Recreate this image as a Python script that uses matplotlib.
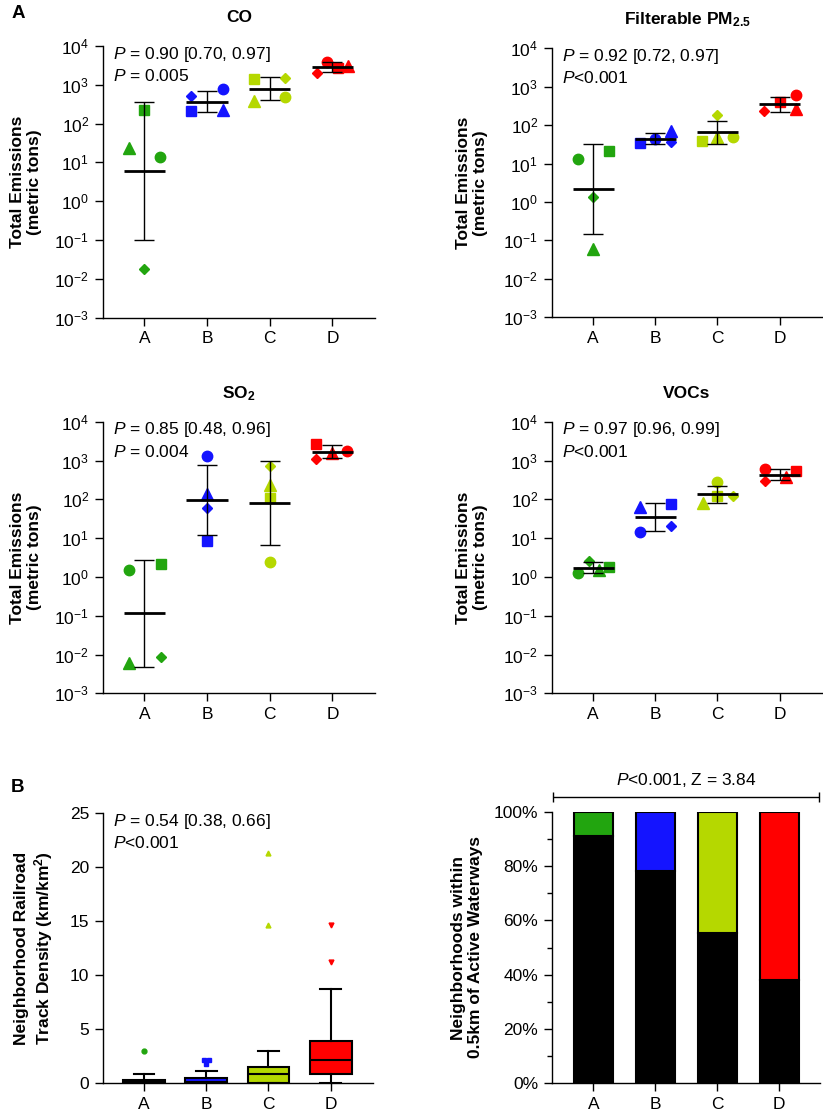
import numpy as np
import matplotlib
matplotlib.use('Agg')
import matplotlib.pyplot as plt
from matplotlib.ticker import LogLocator, NullLocator, MultipleLocator, PercentFormatter

plt.rcParams['font.family'] = ['Liberation Sans', 'DejaVu Sans']
plt.rcParams['mathtext.fontset'] = 'custom'
plt.rcParams['mathtext.rm'] = 'Liberation Sans'
plt.rcParams['mathtext.it'] = 'Liberation Sans:italic'
plt.rcParams['mathtext.bf'] = 'Liberation Sans:bold'
plt.rcParams['axes.linewidth'] = 1.0

FS = 12.5

# Groups and colours
groups = ['A', 'B', 'C', 'D']
colors = ['#22a50f', '#1414ff', '#b5d800', '#ff0000']
shapes = ['o', 's', '^', 'D']          # one shape per site, same order as values below
shape_ms = [7.5, 7.0, 8.0, 5.3]

# Total emissions (metric tons), per group: [circle, square, triangle, diamond]
co = [[13.5, 224, 24, 0.0175], [764, 211, 224, 525],
      [492, 1390, 390, 1470], [3940, 2660, 3100, 1990]]
pm25 = [[13.4, 21.7, 0.059, 1.33], [43.6, 33.7, 71.8, 36.5],
        [48.3, 39.4, 50, 184], [610, 407, 259, 233]]
so2 = [[1.5, 2.2, 0.006, 0.0088], [1280, 8.4, 137, 58.5],
       [2.38, 110, 233, 721], [1790, 2660, 1590, 1094]]
vocs = [[1.29, 1.85, 1.49, 2.6], [14.1, 76.5, 65, 20],
        [279, 121, 79.6, 118.6], [594, 537, 376, 296]]

# horizontal spread of overlapping points (category units), same layout as values
co_dx = [[0.25, 0, -0.25, 0], [0.25, -0.25, 0.25, -0.25],
         [0.25, -0.25, -0.25, 0.25], [-0.085, 0.085, 0.25, -0.25]]
pm_dx = [[-0.25, 0.25, 0, 0], [0, -0.25, 0.25, 0.25],
         [0.25, -0.25, 0, 0], [0.27, 0, 0.27, -0.25]]
so2_dx = [[-0.25, 0.27, -0.25, 0.26], [0, 0, 0, 0],
          [0, 0, 0, 0], [0.24, -0.26, 0, -0.26]]
voc_dx = [[-0.25, 0.26, 0.1, -0.06], [-0.24, 0.25, -0.24, 0.25],
          [0, 0, -0.24, 0.25], [-0.24, 0.27, 0.1, -0.24]]

stats_text = {
    'co': ['= 0.90 [0.70, 0.97]', '= 0.005'],
    'pm': ['= 0.92 [0.72, 0.97]', '<0.001'],
    'so2': ['= 0.85 [0.48, 0.96]', '= 0.004'],
    'voc': ['= 0.97 [0.96, 0.99]', '<0.001'],
    'rail': ['= 0.54 [0.38, 0.66]', '<0.001'],
}

# Railroad track density box plots (km/km2)
rail_med = [0.05, 0.08, 0.80, 2.14]
rail_q1 = [0.0, 0.0, 0.0, 0.84]
rail_q3 = [0.28, 0.43, 1.42, 3.90]
rail_lo = [0.0, 0.0, 0.0, 0.0]
rail_hi = [0.84, 1.11, 2.97, 8.67]
rail_fliers = [[2.97], [2.14, 2.14, 1.73], [21.3, 14.6], [14.6, 11.2]]
flier_dx = [[0], [-0.04, 0.04, 0], [0, 0], [0, 0]]
flier_marks = ['o', 's', '^', 'v']

# Neighborhoods within 0.5 km of active waterways (%)
water_in = [91.4, 78.3, 55.2, 38.0]

W, H = 823, 1115
fig = plt.figure(figsize=(W / 100, H / 100), dpi=100)


def add_ax(l, t, r, b):
    return fig.add_axes([l / W, 1 - b / H, (r - l) / W, (b - t) / H])


def style(ax):
    for s in ['top', 'right']:
        ax.spines[s].set_visible(False)
    ax.tick_params(direction='out', length=6, width=1.0, labelsize=FS, pad=4)
    ax.set_xticks(range(1, 5))
    ax.set_xticklabels(groups)
    ax.set_xlim(0.34, 4.68)


def p_label(s):
    return (r'$\it{P}$ ' + s) if s.startswith('=') else (r'$\it{P}$' + s)


def p_text(ax, key):
    l1, l2 = stats_text[key]
    ax.text(0.037, 0.97, p_label(l1), transform=ax.transAxes, fontsize=FS,
            va='center', ha='left')
    ax.text(0.037, 0.89, p_label(l2), transform=ax.transAxes, fontsize=FS,
            va='center', ha='left')


def emission_panel(ax, data, dx, title, key, ylab_x):
    style(ax)
    ax.set_yscale('log')
    ax.set_ylim(1e-3, 1e4)
    ax.yaxis.set_major_locator(LogLocator(base=10, numticks=10))
    ax.yaxis.set_minor_locator(NullLocator())
    for i, vals in enumerate(data):
        x0 = i + 1
        for v, d, m, ms in zip(vals, dx[i], shapes, shape_ms):
            ax.plot(x0 + d, v, marker=m, ms=ms, color=colors[i], ls='none',
                    mec=colors[i], zorder=2, clip_on=False)
        # geometric mean +/- geometric SD
        lg = np.log10(vals)
        mu, sd = lg.mean(), lg.std(ddof=1)
        gm = 10 ** mu
        ax.errorbar(x0, gm, yerr=[[gm - 10 ** (mu - sd)], [10 ** (mu + sd) - gm]],
                    fmt='none', ecolor='black', elinewidth=1.0, capsize=7.5,
                    capthick=1.0, zorder=3)
        ax.hlines(gm, x0 - 0.33, x0 + 0.33, colors='black', lw=2.0, zorder=4)
    ax.set_title(title, fontsize=FS, fontweight='bold', pad=17)
    ax.set_ylabel('Total Emissions\n(metric tons)', fontsize=FS, fontweight='bold')
    ax.yaxis.set_label_coords(ylab_x, 0.5)
    p_text(ax, key)


ax1 = add_ax(103, 46, 375, 317.6)
emission_panel(ax1, co, co_dx, 'CO', 'co', -0.224)
ax2 = add_ax(552, 48.3, 822, 317.3)
emission_panel(ax2, pm25, pm_dx, r'Filterable PM$_{\mathbf{2.5}}$', 'pm', -0.237)
ax3 = add_ax(103, 421.7, 375, 693.3)
emission_panel(ax3, so2, so2_dx, r'SO$_{\mathbf{2}}$', 'so2', -0.224)
ax4 = add_ax(552, 421.7, 822, 693.3)
emission_panel(ax4, vocs, voc_dx, 'VOCs', 'voc', -0.237)

# Box plot of railroad density
ax5 = add_ax(103, 813.3, 373, 1082.7)
style(ax5)
for i in range(4):
    st = dict(med=rail_med[i], q1=rail_q1[i], q3=rail_q3[i],
              whislo=rail_lo[i], whishi=rail_hi[i], fliers=[])
    ax5.bxp([st], positions=[i + 1], widths=0.67, capwidths=0.33,
            patch_artist=True, manage_ticks=False,
            boxprops=dict(facecolor=colors[i], edgecolor='black', linewidth=1.5),
            medianprops=dict(color='black', linewidth=1.5),
            whiskerprops=dict(color='black', linewidth=1.5),
            capprops=dict(color='black', linewidth=1.5))
    ax5.plot(np.array(flier_dx[i]) + i + 1, rail_fliers[i], ls='none',
             marker=flier_marks[i], ms=3.5, color=colors[i], mec=colors[i])
ax5.set_ylim(0, 25)
ax5.set_yticks(range(0, 26, 5))
ax5.set_ylabel('Neighborhood Railroad\nTrack Density (km/km$^{\\mathbf{2}}$)',
               fontsize=FS, fontweight='bold')
ax5.yaxis.set_label_coords(-0.178, 0.5)
p_text(ax5, 'rail')

# Stacked bars of waterway proximity
ax6 = add_ax(552, 812.3, 820, 1082.7)
style(ax6)
xs = np.arange(1, 5)
water_out = [100 - v for v in water_in]
ax6.bar(xs, water_in, width=0.63, color='black', edgecolor='black', lw=1.5)
ax6.bar(xs, water_out, bottom=water_in, width=0.63, color=colors,
        edgecolor='black', lw=1.5)
ax6.set_xlim(0.33, 4.66)
ax6.set_ylim(0, 100)
ax6.yaxis.set_major_locator(MultipleLocator(20))
ax6.yaxis.set_minor_locator(MultipleLocator(10))
ax6.yaxis.set_major_formatter(PercentFormatter(xmax=100, decimals=0))
ax6.tick_params(which='minor', direction='out', length=3.5, width=1.0)
ax6.set_ylabel('Neighborhoods within\n0.5km of Active Waterways', fontsize=FS,
               fontweight='bold')
ax6.yaxis.set_label_coords(-0.257, 0.5)
ax6.errorbar([0.5], [1.0566], xerr=[0.495], transform=ax6.transAxes, fmt='none',
             ecolor='black', elinewidth=1.0, capsize=3.5, capthick=1.0, clip_on=False)
ax6.text(0.5, 1.12, r'$\it{P}$<0.001, Z = 3.84', transform=ax6.transAxes,
         fontsize=FS, ha='center', va='center')

fig.text(18 / W, 1 - 14 / H, 'A', fontsize=13.5, fontweight='bold', ha='center', va='center')
fig.text(17 / W, 1 - 787 / H, 'B', fontsize=13.5, fontweight='bold', ha='center', va='center')

fig.savefig('out.png', dpi=100)
